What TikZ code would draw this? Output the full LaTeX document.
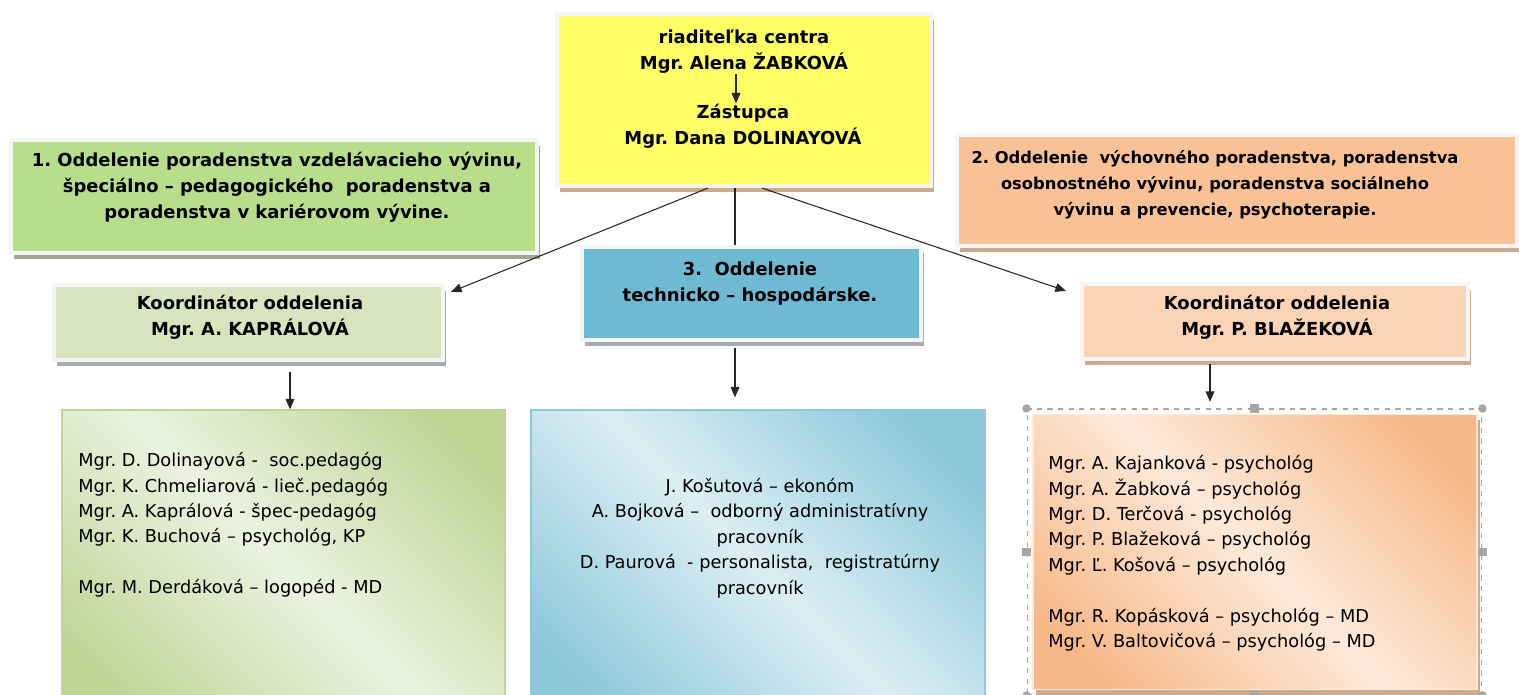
\documentclass[tikz,border=0pt]{standalone}
\usepackage{fontspec}
\setmainfont{DejaVu Sans}
\usetikzlibrary{arrows.meta, positioning, calc, shadows}
\usepackage{xcolor}

% Colors
\definecolor{dirYellow}{RGB}{255,255,102}
\definecolor{deptGreen}{RGB}{184,222,140}
\definecolor{deptOrange}{RGB}{249,193,150}
\definecolor{deptBlue}{RGB}{110,186,210}
\definecolor{koordGreen}{RGB}{215,228,189}
\definecolor{koordOrange}{RGB}{251,212,181}
\definecolor{shBrown}{RGB}{205,170,140}
\definecolor{shOlive}{RGB}{160,168,145}
\definecolor{shGray}{RGB}{165,170,180}
\definecolor{lstGreenDk}{RGB}{192,212,150}
\definecolor{lstGreenLt}{RGB}{236,242,224}
\definecolor{lstBlueDk}{RGB}{140,200,218}
\definecolor{lstBlueLt}{RGB}{220,238,244}
\definecolor{lstOrangeDk}{RGB}{246,184,136}
\definecolor{lstOrangeLt}{RGB}{253,234,218}

\pgfdeclarehorizontalshading{greenGrad}{100bp}{color(0bp)=(lstGreenDk); color(22bp)=(lstGreenDk); color(50bp)=(lstGreenLt); color(78bp)=(lstGreenDk); color(100bp)=(lstGreenDk)}
\pgfdeclarehorizontalshading{blueGrad}{100bp}{color(0bp)=(lstBlueDk); color(22bp)=(lstBlueDk); color(50bp)=(lstBlueLt); color(78bp)=(lstBlueDk); color(100bp)=(lstBlueDk)}
\pgfdeclarehorizontalshading{orangeGrad}{100bp}{color(0bp)=(lstOrangeDk); color(22bp)=(lstOrangeDk); color(50bp)=(lstOrangeLt); color(78bp)=(lstOrangeDk); color(100bp)=(lstOrangeDk)}

\tikzset{
    >={Triangle[length=6pt, width=5pt]},
    % Shapes
    box/.style={rectangle, draw=gray!8, line width=2.4pt, inner sep=0pt},
    boxShadow/.style={drop shadow={shadow xshift=1.8pt, shadow yshift=-3.2pt, fill=#1, opacity=1}},
    listbox/.style={rectangle, draw=#1, line width=0.8pt, inner sep=0pt, shading angle=45},
    handleC/.style={circle, fill=gray!70, inner sep=0pt, minimum size=0.17cm},
    handleS/.style={rectangle, fill=gray!70, inner sep=0pt, minimum size=0.17cm},
    % Text
    hdr/.style={font=\bfseries\fontsize{10.2}{14.8}\selectfont, align=center, inner sep=0pt},
    lst/.style={font=\fontsize{10.1}{14.5}\selectfont, inner sep=0pt},
    % Flow
    line/.style={draw=black!85, line width=0.6pt},
    flow/.style={line, ->}
}

\begin{document}
\frenchspacing
\begin{tikzpicture}[x=0.02cm, y=-0.02cm]
\useasboundingbox (0,0) rectangle (1519,695);
\clip (0,0) rectangle (1519,695);

% top
\node[box, boxShadow=shBrown, fill=dirYellow, minimum width=7.48cm, minimum height=3.44cm] (dir) at (744,100) {};
\node[hdr] (dirA) at (744,52) {riaditeľka centra\\Mgr. Alena ŽABKOVÁ};
\node[hdr] (dirB) at (743,126) {Zástupca\\Mgr. Dana DOLINAYOVÁ};

% departments
\node[box, boxShadow=shOlive, fill=deptGreen, minimum width=10.52cm, minimum height=2.26cm] (dept1) at (274,196.5) {};
\node[hdr] (dept1t) at (277,187) {1. Oddelenie poradenstva vzdelávacieho vývinu,\\špeciálno -- pedagogického \ poradenstva a\\poradenstva v kariérovom vývine.};

\node[box, boxShadow=shBrown, fill=deptOrange, minimum width=11.2cm, minimum height=2.22cm] (dept2) at (1237,190.5) {};
\node[hdr, font=\bfseries\fontsize{9.3}{14.8}\selectfont] (dept2t) at (1215,185) {2. Oddelenie \ výchovného poradenstva, poradenstva\\osobnostného vývinu, poradenstva sociálneho\\vývinu a prevencie, psychoterapie.};

\node[box, boxShadow=shGray, fill=deptBlue, minimum width=6.78cm, minimum height=1.86cm] (dept3) at (751.5,293.5) {};
\node[hdr] (dept3t) at (750,284) {3. \ Oddelenie\\technicko -- hospodárske.};

% coordinators
\node[box, boxShadow=shGray, fill=koordGreen, minimum width=7.78cm, minimum height=1.5cm] (koordL) at (248.5,322.5) {};
\node[hdr] (koordLt) at (250,317) {Koordinátor oddelenia\\Mgr. A. KAPRÁLOVÁ};

\node[box, boxShadow=shBrown, fill=koordOrange, minimum width=7.72cm, minimum height=1.5cm] (koordR) at (1275,321.5) {};
\node[hdr] (koordRt) at (1277,317) {Koordinátor oddelenia\\Mgr. P. BLAŽEKOVÁ};

% staff lists
\node[listbox=lstGreenDk, shading=greenGrad, minimum width=8.86cm, minimum height=6.2cm] (listL) at (283.5,565) {};
\node[lst, align=left, anchor=north west] (listLt) at (78,452) {Mgr. D. Dolinayová - \ soc.pedagóg\\Mgr. K. Chmeliarová - lieč.pedagóg\\Mgr. A. Kaprálová - špec-pedagóg\\Mgr. K. Buchová -- psychológ, KP\\[14.5pt]Mgr. M. Derdáková -- logopéd - MD};

\node[listbox=lstBlueDk, shading=blueGrad, minimum width=9.08cm, minimum height=6.2cm] (listB) at (758,565) {};
\node[lst, align=center] (listBt) at (760,538) {J. Košutová -- ekonóm\\A. Bojková -- \ odborný administratívny\\pracovník\\D. Paurová \ - personalista, \ registratúrny\\pracovník};

\node[rectangle, draw=gray!70, dashed, line width=0.6pt, minimum width=9.1cm, minimum height=5.72cm] (sel) at (1254.5,552) {};
\node[listbox=lstOrangeLt, shading=orangeGrad, boxShadow=shBrown, minimum width=8.88cm, minimum height=5.5cm] (listR) at (1255,552) {};
\node[lst, align=left, anchor=north west] (listRt) at (1048,455) {Mgr. A. Kajanková - psychológ\\Mgr. A. Žabková -- psychológ\\Mgr. D. Terčová - psychológ\\Mgr. P. Blažeková -- psychológ\\Mgr. Ľ. Košová -- psychológ\\[14.5pt]Mgr. R. Kopásková -- psychológ -- MD\\Mgr. V. Baltovičová -- psychológ -- MD};

% selection handles
\foreach \a in {north west, north east, south west, south east}
    \node[handleC] at (sel.\a) {};
\foreach \a in {north, south, west, east}
    \node[handleS] at (sel.\a) {};

% connectors
\draw[flow] ([xshift=-0.16cm]dirA.south) -- ([xshift=-0.14cm]dirB.north);
\draw[flow] ($(dir.south)+(-36,0)$) -- ($(koordL.north east)+(6,9)$);
\draw[line] ($(dir.south)+(-9,0)$) -- ($(dept3.north)+(-16.5,0)$);
\draw[flow] ($(dir.south)+(18,0)$) -- ($(koordR.north west)+(-14,9)$);

\draw[flow] ($(koordL.south)+(41.5,10)$) -- ($(listL.north)+(6.5,0)$);
\draw[flow] ($(dept3.south)+(-16.5,6)$) -- ($(listB.north)+(-23,-12)$);
\draw[flow] ($(koordR.south)+(-65,3)$) -- ($(listR.north)+(-45,-12)$);

\end{tikzpicture}
\end{document}
